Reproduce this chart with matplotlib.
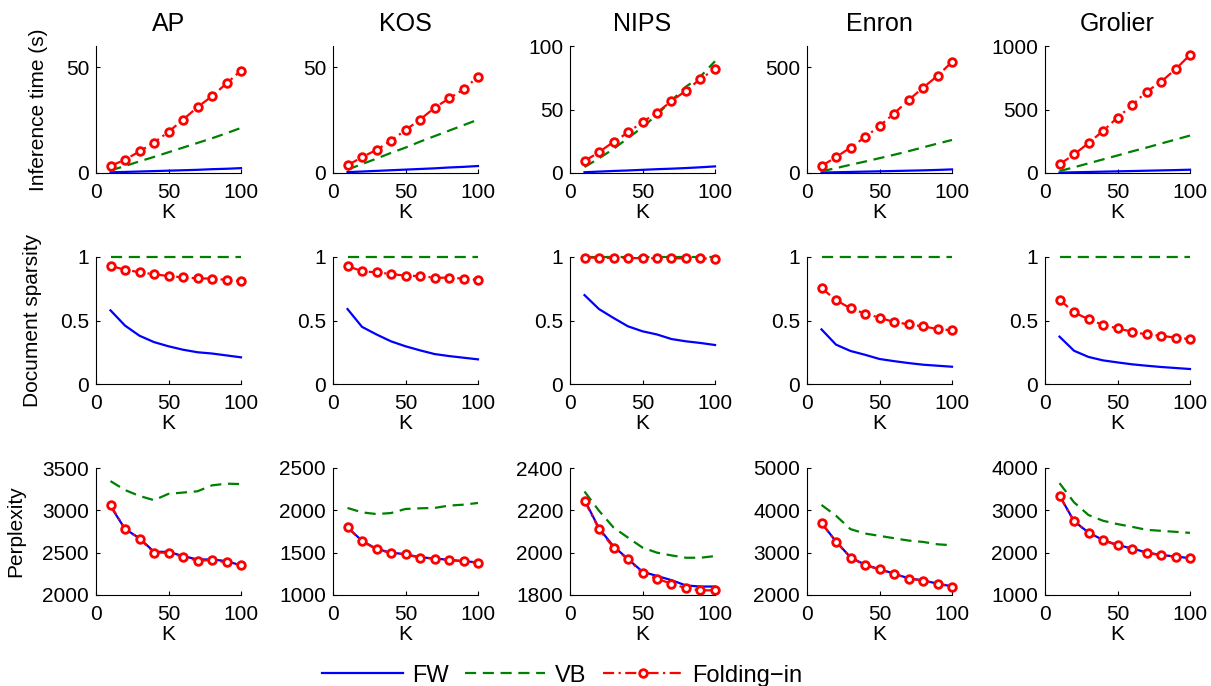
import matplotlib
matplotlib.use("Agg")
import matplotlib.pyplot as plt

plt.rcParams['font.family'] = ['Liberation Sans', 'DejaVu Sans']
plt.rcParams['font.size'] = 15

K = [10, 20, 30, 40, 50, 60, 70, 80, 90, 100]
datasets = ["AP", "KOS", "NIPS", "Enron", "Grolier"]

# inference time (s)
ap_time_fw = [0.3, 0.5, 0.7, 0.9, 1.1, 1.3, 1.5, 1.8, 2.0, 2.3]
ap_time_vb = [1.2, 3.3, 5.5, 7.6, 9.8, 12.0, 14.2, 16.4, 18.8, 21.3]
ap_time_fi = [3.3, 6.3, 10.2, 14.4, 19.4, 25.2, 31.1, 36.3, 42.3, 48.4]
kos_time_fw = [0.4, 0.7, 1.0, 1.3, 1.6, 1.9, 2.2, 2.6, 2.9, 3.3]
kos_time_vb = [1.6, 4.2, 6.8, 9.5, 12.0, 14.8, 17.4, 20.0, 22.6, 25.2]
kos_time_fi = [3.6, 7.5, 10.9, 15.3, 20.3, 25.2, 30.8, 35.2, 39.5, 45.5]
nips_time_fw = [0.6, 1.1, 1.6, 2.0, 2.5, 3.0, 3.4, 3.9, 4.5, 5.2]
nips_time_vb = [4.7, 11.5, 19.0, 27.5, 36.0, 46.0, 57.0, 68.0, 76.0, 88.0]
nips_time_fi = [9.4, 16.4, 24.5, 31.9, 40.2, 47.5, 56.7, 64.8, 74.2, 81.7]
enron_time_fw = [2, 3.5, 5, 6.5, 8, 9.5, 11, 12.5, 14.5, 17]
enron_time_vb = [8, 23, 39, 54, 70, 86, 103, 121, 139, 156]
enron_time_fi = [33, 75, 120, 169, 222, 281, 344, 403, 459, 525]
grolier_time_fw = [3, 5.5, 8, 10.5, 13, 15.5, 18, 20.5, 23, 26]
grolier_time_vb = [15, 45, 76, 107, 138, 170, 200, 232, 263, 295]
grolier_time_fi = [68, 146, 235, 332, 436, 533, 640, 718, 817, 930]

# document sparsity
ap_sp_fw = [0.58, 0.46, 0.38, 0.33, 0.297, 0.27, 0.25, 0.24, 0.225, 0.21]
ap_sp_vb = [1, 1, 1, 1, 1, 1, 1, 1, 1, 1]
ap_sp_fi = [0.93, 0.90, 0.88, 0.864, 0.85, 0.84, 0.832, 0.83, 0.82, 0.81]
kos_sp_fw = [0.59, 0.45, 0.39, 0.336, 0.297, 0.265, 0.236, 0.22, 0.207, 0.194]
kos_sp_vb = [1, 1, 1, 1, 1, 1, 1, 1, 1, 1]
kos_sp_fi = [0.93, 0.887, 0.88, 0.866, 0.853, 0.85, 0.837, 0.837, 0.83, 0.82]
nips_sp_fw = [0.70, 0.59, 0.52, 0.454, 0.415, 0.39, 0.354, 0.336, 0.323, 0.307]
nips_sp_vb = [1, 1, 1, 1, 1, 1, 1, 1, 1, 1]
nips_sp_fi = [0.995, 0.995, 0.993, 0.993, 0.99, 0.99, 0.99, 0.99, 0.99, 0.985]
enron_sp_fw = [0.43, 0.31, 0.26, 0.23, 0.197, 0.18, 0.165, 0.152, 0.144, 0.136]
enron_sp_vb = [1, 1, 1, 1, 1, 1, 1, 1, 1, 1]
enron_sp_fi = [0.756, 0.66, 0.596, 0.554, 0.522, 0.488, 0.47, 0.454, 0.433, 0.423]
grolier_sp_fw = [0.373, 0.262, 0.213, 0.186, 0.17, 0.155, 0.144, 0.134, 0.126, 0.118]
grolier_sp_vb = [1, 1, 1, 1, 1, 1, 1, 1, 1, 1]
grolier_sp_fi = [0.664, 0.564, 0.51, 0.465, 0.438, 0.412, 0.39, 0.38, 0.365, 0.354]

# perplexity
ap_pp_fw = [3050, 2780, 2670, 2510, 2510, 2460, 2420, 2420, 2400, 2350]
ap_pp_vb = [3345, 3240, 3170, 3120, 3195, 3210, 3225, 3295, 3315, 3310]
ap_pp_fi = [3063, 2778, 2667, 2500, 2500, 2452, 2405, 2413, 2385, 2349]
kos_pp_fw = [1800, 1640, 1545, 1500, 1482, 1445, 1432, 1415, 1400, 1385]
kos_pp_vb = [2028, 1976, 1956, 1968, 2016, 2024, 2028, 2056, 2067, 2087]
kos_pp_fi = [1798, 1635, 1540, 1496, 1480, 1440, 1429, 1413, 1397, 1381]
nips_pp_fw = [2250, 2115, 2030, 1970, 1910, 1890, 1870, 1845, 1840, 1840]
nips_pp_vb = [2289, 2198, 2119, 2071, 2024, 2000, 1987, 1976, 1976, 1984]
nips_pp_fi = [2246, 2111, 2024, 1968, 1905, 1876, 1854, 1832, 1822, 1822]
enron_pp_fw = [3700, 3265, 2890, 2715, 2610, 2505, 2395, 2345, 2270, 2205]
enron_pp_vb = [4127, 3873, 3556, 3452, 3397, 3341, 3286, 3254, 3198, 3175]
enron_pp_fi = [3698, 3262, 2881, 2706, 2603, 2500, 2389, 2341, 2262, 2198]
grolier_pp_fw = [3350, 2745, 2475, 2300, 2180, 2100, 2005, 1945, 1910, 1870]
grolier_pp_vb = [3643, 3190, 2889, 2754, 2675, 2611, 2540, 2516, 2492, 2468]
grolier_pp_fi = [3349, 2738, 2468, 2294, 2175, 2095, 2000, 1937, 1905, 1865]

time_rows = [(ap_time_fw, ap_time_vb, ap_time_fi), (kos_time_fw, kos_time_vb, kos_time_fi),
             (nips_time_fw, nips_time_vb, nips_time_fi), (enron_time_fw, enron_time_vb, enron_time_fi),
             (grolier_time_fw, grolier_time_vb, grolier_time_fi)]
sp_rows = [(ap_sp_fw, ap_sp_vb, ap_sp_fi), (kos_sp_fw, kos_sp_vb, kos_sp_fi),
           (nips_sp_fw, nips_sp_vb, nips_sp_fi), (enron_sp_fw, enron_sp_vb, enron_sp_fi),
           (grolier_sp_fw, grolier_sp_vb, grolier_sp_fi)]
pp_rows = [(ap_pp_fw, ap_pp_vb, ap_pp_fi), (kos_pp_fw, kos_pp_vb, kos_pp_fi),
           (nips_pp_fw, nips_pp_vb, nips_pp_fi), (enron_pp_fw, enron_pp_vb, enron_pp_fi),
           (grolier_pp_fw, grolier_pp_vb, grolier_pp_fi)]

time_ylims = [(0, 60), (0, 60), (0, 100), (0, 600), (0, 1000)]
time_ticks = [[0, 50], [0, 50], [0, 50, 100], [0, 500], [0, 500, 1000]]
sp_ticks = [0, 0.5, 1]
pp_ylims = [(2000, 3500), (1000, 2500), (1800, 2400), (2000, 5000), (1000, 4000)]
pp_ticks = [[2000, 2500, 3000, 3500], [1000, 1500, 2000, 2500], [1800, 2000, 2200, 2400],
            [2000, 3000, 4000, 5000], [1000, 2000, 3000, 4000]]

W, H = 1211, 686
fig = plt.figure(figsize=(W / 100, H / 100), dpi=100)

col_left = [96, 333, 570, 807, 1045]
row_bottom = [173, 384, 595]
ax_w, ax_h = 145, 127


def style_axes(ax):
    ax.spines['top'].set_visible(False)
    ax.spines['right'].set_visible(False)
    ax.spines['left'].set_linewidth(0.8)
    ax.spines['bottom'].set_linewidth(0.8)
    ax.tick_params(direction='in', length=3, width=0.8, top=False, right=False)
    ax.tick_params(axis='x', pad=7)
    ax.tick_params(axis='y', pad=5)
    ax.set_xlim(0, 100)
    ax.set_xticks([0, 50, 100])
    ax.set_xlabel("K", labelpad=1)


def draw(ax, fw, vb, fi):
    ax.plot(K, fw, color=(0, 0, 1), lw=1.6, label="FW", clip_on=False)
    ax.plot(K, vb, color=(0, 0.5, 0), lw=1.6, linestyle=(0, (5, 3)), label="VB", clip_on=False)
    ax.plot(K, fi, color=(1, 0, 0), lw=1.6, linestyle=(0, (5, 2, 1, 2)), marker='o',
            markersize=5.5, markeredgewidth=2, markerfacecolor='white', label="Folding\u2212in",
            clip_on=False)


all_rows = [time_rows, sp_rows, pp_rows]
for r in range(3):
    for c in range(5):
        ax = fig.add_axes([col_left[c] / W, 1 - row_bottom[r] / H, ax_w / W, ax_h / H])
        fw, vb, fi = all_rows[r][c]
        draw(ax, fw, vb, fi)
        style_axes(ax)
        if r == 0:
            ax.set_ylim(*time_ylims[c])
            ax.set_yticks(time_ticks[c])
            ax.set_title(datasets[c], pad=11)
        elif r == 1:
            ax.set_ylim(0, 1)
            ax.set_yticks(sp_ticks)
            ax.set_yticklabels(["0", "0.5", "1"])
        else:
            ax.set_ylim(*pp_ylims[c])
            ax.set_yticks(pp_ticks[c])
        if c == 0:
            if r == 0:
                ax.set_ylabel("Inference time (s)")
                ax.yaxis.set_label_coords(-0.33, 0.5)
            elif r == 1:
                ax.set_ylabel("Document sparsity")
                ax.yaxis.set_label_coords(-0.37, 0.5)
            else:
                ax.set_ylabel("Perplexity")
                ax.yaxis.set_label_coords(-0.49, 0.5)
        if r == 2 and c == 0:
            handles, labels = ax.get_legend_handles_labels()

fig.legend(handles, labels, loc='center', ncol=3, frameon=False, fontsize=17,
           bbox_to_anchor=(0.4645, 0.015), handlelength=3.4, handletextpad=0.4,
           columnspacing=0.7, borderpad=0.1, borderaxespad=0.1)

fig.savefig("out.png", dpi=100)
